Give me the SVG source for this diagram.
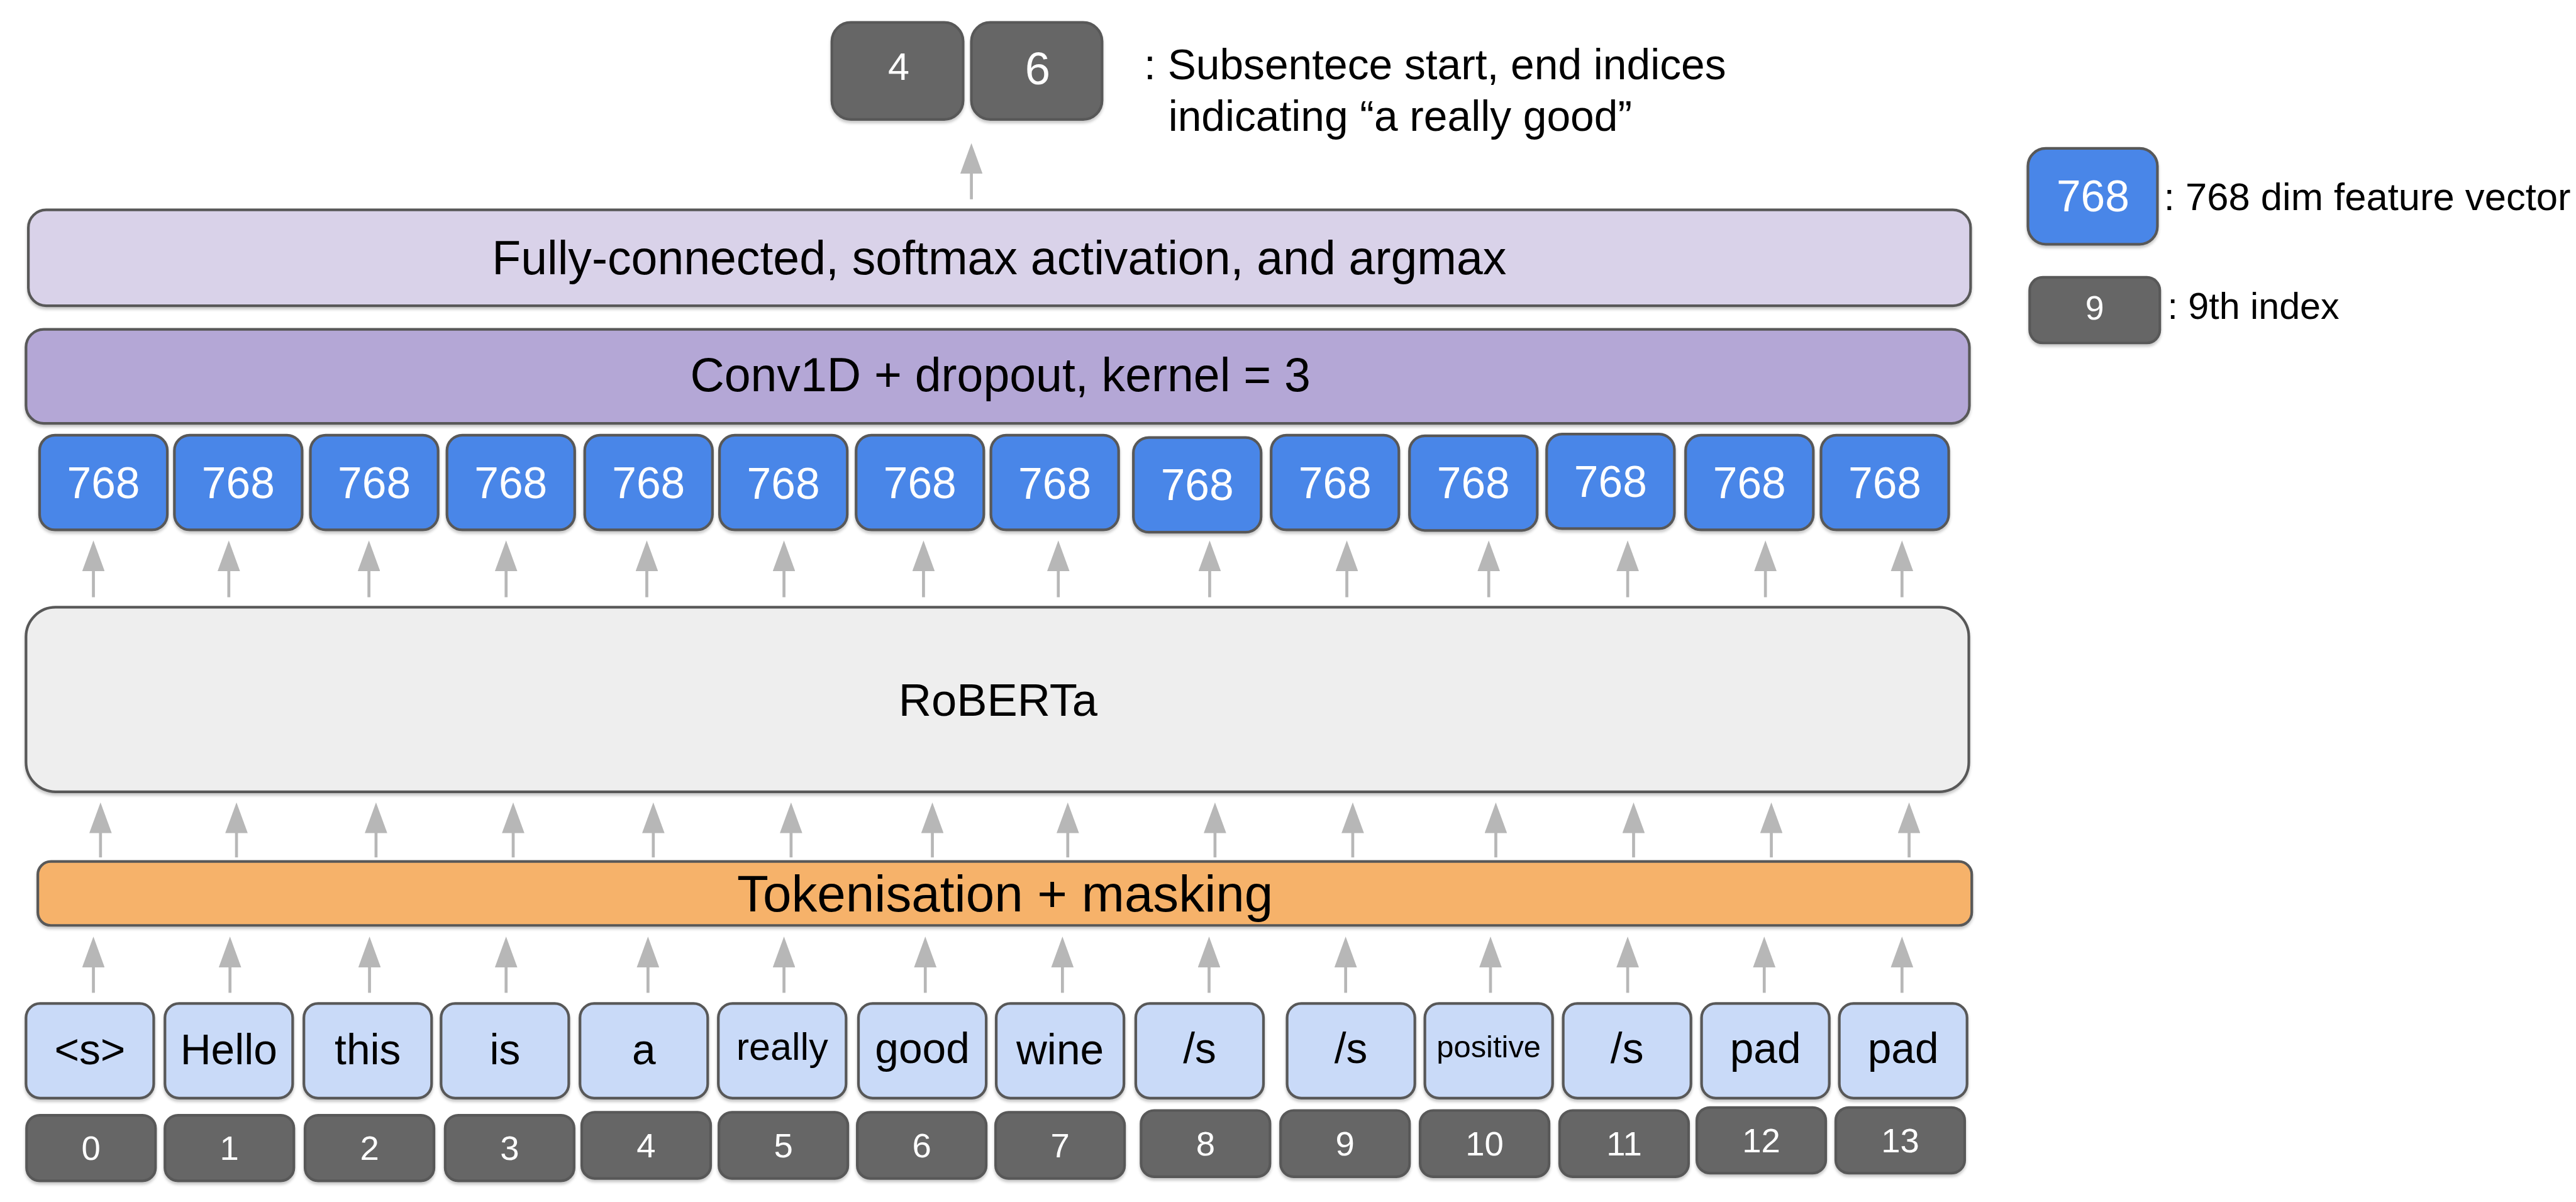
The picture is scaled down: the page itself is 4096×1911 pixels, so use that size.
<svg xmlns="http://www.w3.org/2000/svg" width="4096" height="1911" viewBox="0 0 4096 1911">
<defs>
<filter id="sh" x="-5%" y="-10%" width="110%" height="130%"><feDropShadow dx="0" dy="4" stdDeviation="2" flood-color="#000" flood-opacity="0.22"/></filter>
<marker id="ah" markerUnits="userSpaceOnUse" viewBox="0 0 52 38" markerWidth="52" markerHeight="38" refX="7" refY="19" orient="auto"><path d="M0,0 L52,19 L0,38 Z" fill="#b7b7b7"/></marker>
<style>
text{font-family:"Liberation Sans",Arial,sans-serif;fill:#000;text-anchor:middle}
.lt{text-anchor:start}
.wt{fill:#fff}
rect{stroke:#595959;stroke-width:4.5;filter:url(#sh)}
.idx{fill:#666666}
.vec{fill:#4a86e8}
.tok{fill:#c9daf8}
.con line{stroke:#b7b7b7;stroke-width:5;marker-end:url(#ah)}
</style>
</defs>
<rect x="0" y="0" width="4096" height="1911" fill="#ffffff" style="stroke:none;filter:none"/>
<g transform="scale(0.9401)">

<g id="out4"><rect class="idx" x="1407" y="38" width="222" height="164" rx="32"/><text class="wt" x="1520" y="135" font-size="65">4</text></g>
<g id="out6"><rect class="idx" x="1643" y="38" width="221" height="164" rx="32"/><text class="wt" x="1755" y="143" font-size="77">6</text></g>
<g id="out-label">
<text class="lt" x="1935" y="134" font-size="72">: Subsentece start, end indices</text>
<text class="lt" x="1976" y="221" font-size="72">indicating “a really good”</text>
</g>

<g id="legend-vec"><rect class="vec" x="3430" y="251" width="219" height="162" rx="30"/><text class="wt" x="3540" y="357" font-size="74">768</text><text class="lt" x="3660" y="355" font-size="65.5">: 768 dim feature vector</text></g>
<g id="legend-idx"><rect class="idx" x="3433" y="469" width="220" height="111" rx="22"/><text class="wt" x="3543" y="540" font-size="57">9</text><text class="lt" x="3666" y="539" font-size="63">: 9th index</text></g>

<g id="fc"><rect x="48" y="355" width="3285" height="162" rx="30" fill="#d9d2e9"/><text x="1690" y="464" font-size="80">Fully-connected, softmax activation, and argmax</text></g>
<g id="conv"><rect x="44" y="557" width="3287" height="159" rx="30" fill="#b4a7d6"/><text x="1692" y="662" font-size="80">Conv1D + dropout, kernel = 3</text></g>

<g id="features">
<g id="f0"><rect class="vec" x="67" y="736" width="216" height="160" rx="26"/><text class="wt" x="175" y="842" font-size="74">768</text></g>
<g id="f1"><rect class="vec" x="295" y="736" width="216" height="160" rx="26"/><text class="wt" x="403" y="842" font-size="74">768</text></g>
<g id="f2"><rect class="vec" x="525" y="736" width="216" height="160" rx="26"/><text class="wt" x="633" y="842" font-size="74">768</text></g>
<g id="f3"><rect class="vec" x="756" y="736" width="216" height="160" rx="26"/><text class="wt" x="864" y="842" font-size="74">768</text></g>
<g id="f4"><rect class="vec" x="989" y="736" width="216" height="160" rx="26"/><text class="wt" x="1097" y="842" font-size="74">768</text></g>
<g id="f5"><rect class="vec" x="1217" y="736" width="216" height="160" rx="26"/><text class="wt" x="1325" y="844" font-size="74">768</text></g>
<g id="f6"><rect class="vec" x="1448" y="736" width="216" height="160" rx="26"/><text class="wt" x="1556" y="842" font-size="74">768</text></g>
<g id="f7"><rect class="vec" x="1676" y="736" width="216" height="160" rx="26"/><text class="wt" x="1784" y="844" font-size="74">768</text></g>
<g id="f8"><rect class="vec" x="1917" y="740" width="216" height="160" rx="26"/><text class="wt" x="2025" y="846" font-size="74">768</text></g>
<g id="f9"><rect class="vec" x="2150" y="736" width="216" height="160" rx="26"/><text class="wt" x="2258" y="842" font-size="74">768</text></g>
<g id="f10"><rect class="vec" x="2384" y="737" width="216" height="160" rx="26"/><text class="wt" x="2492" y="842" font-size="74">768</text></g>
<g id="f11"><rect class="vec" x="2616" y="734" width="216" height="160" rx="26"/><text class="wt" x="2724" y="840" font-size="74">768</text></g>
<g id="f12"><rect class="vec" x="2851" y="736" width="216" height="160" rx="26"/><text class="wt" x="2959" y="842" font-size="74">768</text></g>
<g id="f13"><rect class="vec" x="3080" y="736" width="216" height="160" rx="26"/><text class="wt" x="3188" y="842" font-size="74">768</text></g>
</g>

<g id="roberta"><rect x="44" y="1027" width="3286" height="312" rx="50" fill="#eeeeee"/><text x="1688" y="1211" font-size="77">RoBERTa</text></g>

<g id="tokenisation"><rect x="64" y="1457" width="3271" height="108" rx="22" fill="#f6b26b"/><text x="1700" y="1541" font-size="87">Tokenisation + masking</text></g>

<g id="tokens">
<g id="t0"><rect class="tok" x="44" y="1697" width="216" height="160" rx="24"/><text x="152" y="1800" font-size="72">&lt;s&gt;</text></g>
<g id="t1"><rect class="tok" x="279" y="1697" width="216" height="160" rx="24"/><text x="387" y="1800" font-size="72">Hello</text></g>
<g id="t2"><rect class="tok" x="514" y="1697" width="216" height="160" rx="24"/><text x="622" y="1800" font-size="72">this</text></g>
<g id="t3"><rect class="tok" x="746" y="1697" width="216" height="160" rx="24"/><text x="854" y="1800" font-size="72">is</text></g>
<g id="t4"><rect class="tok" x="981" y="1697" width="216" height="160" rx="24"/><text x="1089" y="1800" font-size="72">a</text></g>
<g id="t5"><rect class="tok" x="1215" y="1697" width="216" height="160" rx="24"/><text x="1323" y="1792" font-size="65">really</text></g>
<g id="t6"><rect class="tok" x="1452" y="1697" width="216" height="160" rx="24"/><text x="1560" y="1798" font-size="72">good</text></g>
<g id="t7"><rect class="tok" x="1685" y="1697" width="216" height="160" rx="24"/><text x="1793" y="1800" font-size="72">wine</text></g>
<g id="t8"><rect class="tok" x="1921" y="1697" width="216" height="160" rx="24"/><text x="2029" y="1798" font-size="72">/s</text></g>
<g id="t9"><rect class="tok" x="2177" y="1697" width="216" height="160" rx="24"/><text x="2285" y="1798" font-size="72">/s</text></g>
<g id="t10"><rect class="tok" x="2410" y="1697" width="216" height="160" rx="24"/><text x="2518" y="1788" font-size="52">positive</text></g>
<g id="t11"><rect class="tok" x="2644" y="1697" width="216" height="160" rx="24"/><text x="2752" y="1798" font-size="72">/s</text></g>
<g id="t12"><rect class="tok" x="2878" y="1697" width="216" height="160" rx="24"/><text x="2986" y="1798" font-size="72">pad</text></g>
<g id="t13"><rect class="tok" x="3111" y="1697" width="216" height="160" rx="24"/><text x="3219" y="1798" font-size="72">pad</text></g>
</g>

<g id="indices">
<g id="i0"><rect class="idx" x="45" y="1886" width="218" height="111" rx="22"/><text class="wt" x="154" y="1962" font-size="58">0</text></g>
<g id="i1"><rect class="idx" x="279" y="1886" width="218" height="111" rx="22"/><text class="wt" x="388" y="1962" font-size="58">1</text></g>
<g id="i2"><rect class="idx" x="516" y="1886" width="218" height="111" rx="22"/><text class="wt" x="625" y="1962" font-size="58">2</text></g>
<g id="i3"><rect class="idx" x="753" y="1886" width="218" height="111" rx="22"/><text class="wt" x="862" y="1962" font-size="58">3</text></g>
<g id="i4"><rect class="idx" x="984" y="1881" width="218" height="112" rx="22"/><text class="wt" x="1093" y="1957" font-size="58">4</text></g>
<g id="i5"><rect class="idx" x="1216" y="1881" width="218" height="112" rx="22"/><text class="wt" x="1325" y="1957" font-size="58">5</text></g>
<g id="i6"><rect class="idx" x="1450" y="1881" width="218" height="112" rx="22"/><text class="wt" x="1559" y="1957" font-size="58">6</text></g>
<g id="i7"><rect class="idx" x="1684" y="1881" width="218" height="112" rx="22"/><text class="wt" x="1793" y="1957" font-size="58">7</text></g>
<g id="i8"><rect class="idx" x="1930" y="1878" width="218" height="112" rx="22"/><text class="wt" x="2039" y="1954" font-size="58">8</text></g>
<g id="i9"><rect class="idx" x="2166" y="1878" width="218" height="112" rx="22"/><text class="wt" x="2275" y="1954" font-size="58">9</text></g>
<g id="i10"><rect class="idx" x="2402" y="1878" width="218" height="112" rx="22"/><text class="wt" x="2511" y="1954" font-size="58">10</text></g>
<g id="i11"><rect class="idx" x="2638" y="1878" width="218" height="112" rx="22"/><text class="wt" x="2747" y="1954" font-size="58">11</text></g>
<g id="i12"><rect class="idx" x="2870" y="1873" width="218" height="111" rx="22"/><text class="wt" x="2979" y="1949" font-size="58">12</text></g>
<g id="i13"><rect class="idx" x="3105" y="1873" width="218" height="111" rx="22"/><text class="wt" x="3214" y="1949" font-size="58">13</text></g>
</g>

<g id="connectors" class="con">
<line x1="1643" y1="337" x2="1643" y2="287"/>
<line x1="158" y1="1010" x2="158" y2="959"/>
<line x1="387" y1="1010" x2="387" y2="959"/>
<line x1="624" y1="1010" x2="624" y2="959"/>
<line x1="856" y1="1010" x2="856" y2="959"/>
<line x1="1094" y1="1010" x2="1094" y2="959"/>
<line x1="1326" y1="1010" x2="1326" y2="959"/>
<line x1="1562" y1="1010" x2="1562" y2="959"/>
<line x1="1790" y1="1010" x2="1790" y2="959"/>
<line x1="2046" y1="1010" x2="2046" y2="959"/>
<line x1="2278" y1="1010" x2="2278" y2="959"/>
<line x1="2518" y1="1010" x2="2518" y2="959"/>
<line x1="2753" y1="1010" x2="2753" y2="959"/>
<line x1="2986" y1="1010" x2="2986" y2="959"/>
<line x1="3217" y1="1010" x2="3217" y2="959"/>
<line x1="170" y1="1450" x2="170" y2="1402"/>
<line x1="400" y1="1450" x2="400" y2="1402"/>
<line x1="636" y1="1450" x2="636" y2="1402"/>
<line x1="868" y1="1450" x2="868" y2="1402"/>
<line x1="1105" y1="1450" x2="1105" y2="1402"/>
<line x1="1338" y1="1450" x2="1338" y2="1402"/>
<line x1="1577" y1="1450" x2="1577" y2="1402"/>
<line x1="1806" y1="1450" x2="1806" y2="1402"/>
<line x1="2055" y1="1450" x2="2055" y2="1402"/>
<line x1="2288" y1="1450" x2="2288" y2="1402"/>
<line x1="2530" y1="1450" x2="2530" y2="1402"/>
<line x1="2763" y1="1450" x2="2763" y2="1402"/>
<line x1="2996" y1="1450" x2="2996" y2="1402"/>
<line x1="3229" y1="1450" x2="3229" y2="1402"/>
<line x1="158" y1="1679" x2="158" y2="1629"/>
<line x1="389" y1="1679" x2="389" y2="1629"/>
<line x1="625" y1="1679" x2="625" y2="1629"/>
<line x1="856" y1="1679" x2="856" y2="1629"/>
<line x1="1096" y1="1679" x2="1096" y2="1629"/>
<line x1="1326" y1="1679" x2="1326" y2="1629"/>
<line x1="1565" y1="1679" x2="1565" y2="1629"/>
<line x1="1797" y1="1679" x2="1797" y2="1629"/>
<line x1="2045" y1="1679" x2="2045" y2="1629"/>
<line x1="2276" y1="1679" x2="2276" y2="1629"/>
<line x1="2521" y1="1679" x2="2521" y2="1629"/>
<line x1="2753" y1="1679" x2="2753" y2="1629"/>
<line x1="2984" y1="1679" x2="2984" y2="1629"/>
<line x1="3217" y1="1679" x2="3217" y2="1629"/>
</g>
</g>
</svg>
